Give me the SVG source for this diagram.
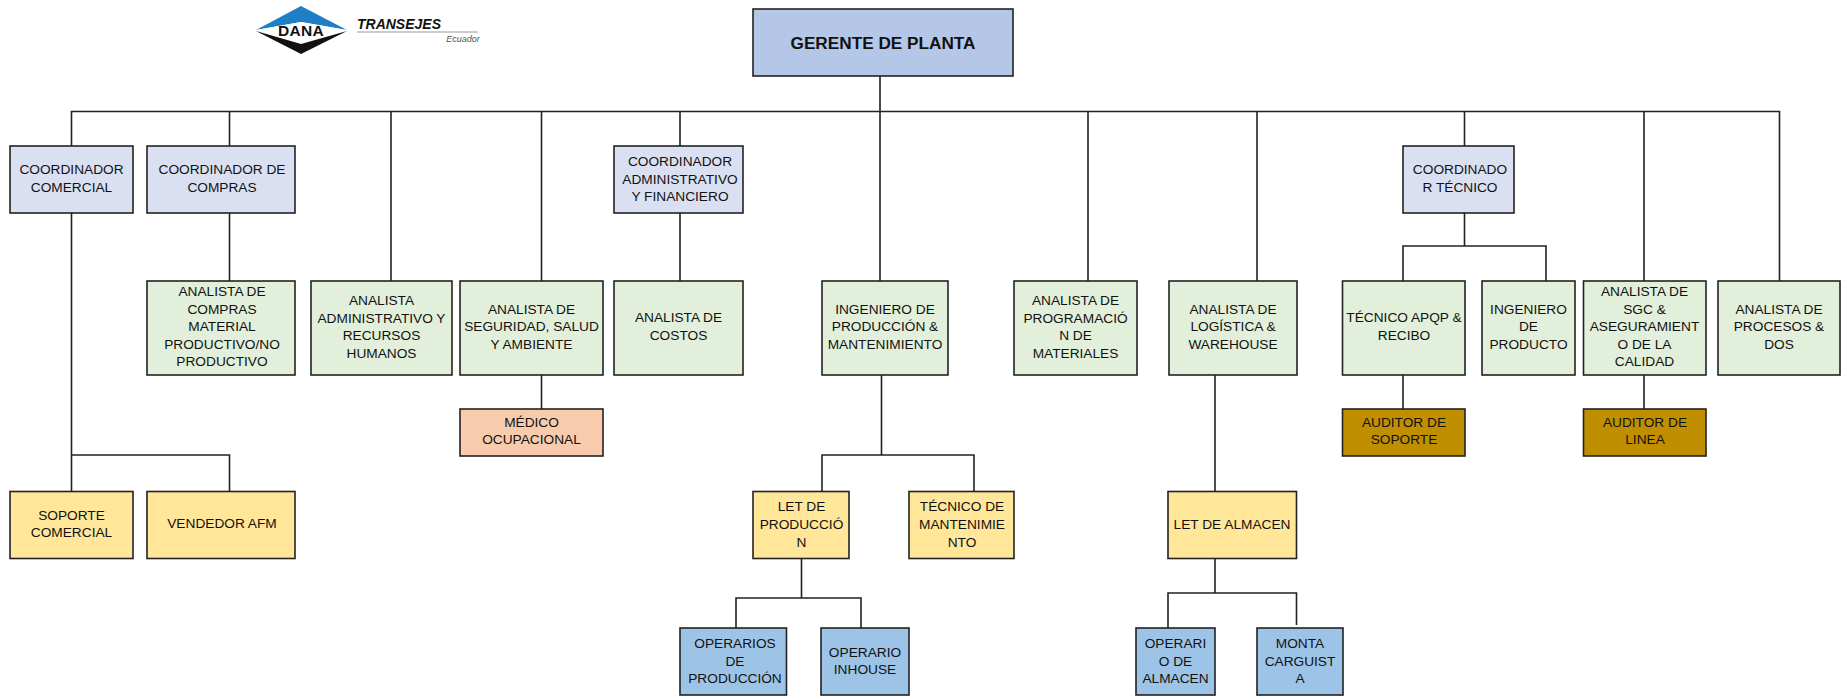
<svg xmlns="http://www.w3.org/2000/svg" width="1842" height="696" viewBox="0 0 1842 696">
<style>
text{font-family:"Liberation Sans",Arial,sans-serif;font-size:13.700px;fill:#111;text-anchor:middle}
.n rect{stroke:#222;stroke-width:1.6}
.blue rect{fill:#dae0f2}.green rect{fill:#e2efda}.yellow rect{fill:#ffe699}.steel rect{fill:#9dc3e6}.gold rect{fill:#bf8f00}.peach rect{fill:#f8cbad}
#connectors path{fill:none;stroke:#222;stroke-width:1.6}
</style>
<rect width="1842" height="696" fill="#fff"/>
<g id="logo">
<polygon points="301,6 347,30 301,22 256,30" fill="#1f7fc4"/>
<polygon points="256,30 301,22 347,30 301,44" fill="#fff"/>
<polygon points="256,31 301,44 347,31 301,54" fill="#111"/>
<text x="301" y="36" style="font-size:15.500px;font-weight:700;letter-spacing:.3px">DANA</text>
<text x="399" y="29" style="font-size:14px;font-weight:700;font-style:italic">TRANSEJES</text>
<path d="M357 32H478" stroke="#999" stroke-width="1"/>
<text x="463" y="42" style="font-size:9px;font-style:italic;fill:#555">Ecuador</text>
</g>
<g id="connectors">
<path d="M880 76V111.500M71.500 146V111.500H1779.500V281"/>
<path d="M229.500 111.500V281M391 111.500V281M541.500 111.500V409M680 111.500V281M880 111.500V281M1088 111.500V281M1257 111.500V281M1464.500 111.500V146M1644 111.500V409"/>
<path d="M71.500 213V491M71.500 455H229.500V491"/>
<path d="M881.500 375V455M822 491V455H974V491"/>
<path d="M801.500 559V598M736 628V598H861V628"/>
<path d="M1215 375V491M1215 559V593M1168 628V593H1296.500V625"/>
<path d="M1464.500 213V246M1403 281V246H1546V281M1403 375V409"/>
</g>
<g id="gerente" class="n"><rect x="753" y="9" width="260" height="67" fill="#b4c7e7"/><text x="883" y="49" style="font-size:17.200px;font-weight:700">GERENTE DE PLANTA</text></g>
<g id="coord-comercial" class="n blue"><rect x="10" y="146" width="123" height="67"/><text x="71.500" y="174">COORDINADOR</text><text x="71.500" y="192">COMERCIAL</text></g>
<g id="coord-compras" class="n blue"><rect x="147" y="146" width="148" height="67"/><text x="222" y="174">COORDINADOR DE</text><text x="222" y="192">COMPRAS</text></g>
<g id="coord-admin" class="n blue"><rect x="614" y="146" width="129" height="67"/><text x="680" y="166">COORDINADOR</text><text x="680" y="184">ADMINISTRATIVO</text><text x="680" y="201">Y FINANCIERO</text></g>
<g id="coord-tecnico" class="n blue"><rect x="1403" y="146" width="111" height="67"/><text x="1460" y="174">COORDINADO</text><text x="1460" y="192">R TÉCNICO</text></g>
<g id="analista-compras" class="n green"><rect x="147" y="281" width="148" height="94"/><text x="222" y="296">ANALISTA DE</text><text x="222" y="314">COMPRAS</text><text x="222" y="331">MATERIAL</text><text x="222" y="349">PRODUCTIVO/NO</text><text x="222" y="366">PRODUCTIVO</text></g>
<g id="analista-admin" class="n green"><rect x="311" y="281" width="141" height="94"/><text x="381.500" y="305">ANALISTA</text><text x="381.500" y="323">ADMINISTRATIVO Y</text><text x="381.500" y="340">RECURSOS</text><text x="381.500" y="358">HUMANOS</text></g>
<g id="analista-seguridad" class="n green"><rect x="460" y="281" width="143" height="94"/><text x="531.500" y="314">ANALISTA DE</text><text x="531.500" y="331">SEGURIDAD, SALUD</text><text x="531.500" y="349">Y AMBIENTE</text></g>
<g id="analista-costos" class="n green"><rect x="614" y="281" width="129" height="94"/><text x="678.500" y="322">ANALISTA DE</text><text x="678.500" y="340">COSTOS</text></g>
<g id="ingeniero-produccion" class="n green"><rect x="822" y="281" width="126" height="94"/><text x="885" y="314">INGENIERO DE</text><text x="885" y="331">PRODUCCIÓN &amp;</text><text x="885" y="349">MANTENIMIENTO</text></g>
<g id="analista-programacion" class="n green"><rect x="1014" y="281" width="123" height="94"/><text x="1075.500" y="305">ANALISTA DE</text><text x="1075.500" y="323">PROGRAMACIÓ</text><text x="1075.500" y="340">N DE</text><text x="1075.500" y="358">MATERIALES</text></g>
<g id="analista-logistica" class="n green"><rect x="1169" y="281" width="128" height="94"/><text x="1233" y="314">ANALISTA DE</text><text x="1233" y="331">LOGÍSTICA &amp;</text><text x="1233" y="349">WAREHOUSE</text></g>
<g id="tecnico-apqp" class="n green"><rect x="1342.500" y="281" width="122.500" height="94"/><text x="1404" y="322">TÉCNICO APQP &amp;</text><text x="1404" y="340">RECIBO</text></g>
<g id="ingeniero-producto" class="n green"><rect x="1482" y="281" width="93" height="94"/><text x="1528.500" y="314">INGENIERO</text><text x="1528.500" y="331">DE</text><text x="1528.500" y="349">PRODUCTO</text></g>
<g id="analista-sgc" class="n green"><rect x="1583.500" y="281" width="122.500" height="94"/><text x="1644.500" y="296">ANALISTA DE</text><text x="1644.500" y="314">SGC &amp;</text><text x="1644.500" y="331">ASEGURAMIENT</text><text x="1644.500" y="349">O DE LA</text><text x="1644.500" y="366">CALIDAD</text></g>
<g id="analista-procesos" class="n green"><rect x="1718" y="281" width="122" height="94"/><text x="1779" y="314">ANALISTA DE</text><text x="1779" y="331">PROCESOS &amp;</text><text x="1779" y="349">DOS</text></g>
<g id="medico" class="n peach"><rect x="460" y="409" width="143" height="47"/><text x="531.500" y="427">MÉDICO</text><text x="531.500" y="444">OCUPACIONAL</text></g>
<g id="auditor-soporte" class="n gold"><rect x="1342.500" y="409" width="122.500" height="47"/><text x="1404" y="427">AUDITOR DE</text><text x="1404" y="444">SOPORTE</text></g>
<g id="auditor-linea" class="n gold"><rect x="1583.500" y="409" width="122.500" height="47"/><text x="1645" y="427">AUDITOR DE</text><text x="1645" y="444">LINEA</text></g>
<g id="soporte-comercial" class="n yellow"><rect x="10" y="491.500" width="123" height="67"/><text x="71.500" y="520">SOPORTE</text><text x="71.500" y="537">COMERCIAL</text></g>
<g id="vendedor" class="n yellow"><rect x="147" y="491.500" width="148" height="67"/><text x="222" y="528">VENDEDOR AFM</text></g>
<g id="let-produccion" class="n yellow"><rect x="753" y="491.500" width="96" height="67"/><text x="801.500" y="511">LET DE</text><text x="801.500" y="529">PRODUCCIÓ</text><text x="801.500" y="547">N</text></g>
<g id="tecnico-mantenimiento" class="n yellow"><rect x="909" y="491.500" width="105" height="67"/><text x="962" y="511">TÉCNICO DE</text><text x="962" y="529">MANTENIMIE</text><text x="962" y="547">NTO</text></g>
<g id="let-almacen" class="n yellow"><rect x="1168" y="491.500" width="128.500" height="67"/><text x="1232" y="529">LET DE ALMACEN</text></g>
<g id="operarios-produccion" class="n steel"><rect x="680" y="628" width="106.500" height="67"/><text x="735" y="648">OPERARIOS</text><text x="735" y="666">DE</text><text x="735" y="683">PRODUCCIÓN</text></g>
<g id="operario-inhouse" class="n steel"><rect x="821" y="628" width="88" height="67"/><text x="865" y="657">OPERARIO</text><text x="865" y="674">INHOUSE</text></g>
<g id="operario-almacen" class="n steel"><rect x="1136" y="628" width="79" height="67"/><text x="1175.500" y="648">OPERARI</text><text x="1175.500" y="666">O DE</text><text x="1175.500" y="683">ALMACEN</text></g>
<g id="montacarguista" class="n steel"><rect x="1257" y="628" width="86" height="67"/><text x="1300" y="648">MONTA</text><text x="1300" y="666">CARGUIST</text><text x="1300" y="683">A</text></g>
</svg>
